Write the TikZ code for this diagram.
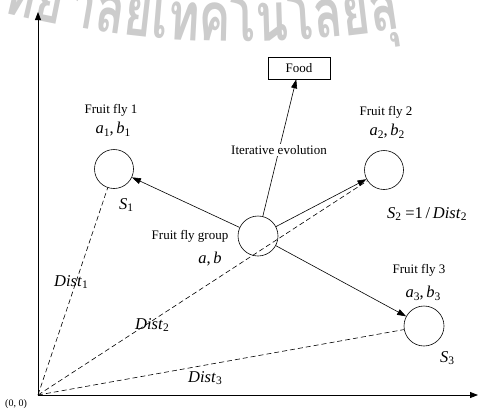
\documentclass[tikz,border=0pt]{standalone}
\usepackage{fontspec}
\setmainfont{Liberation Serif}
\newfontfamily\wmfont[Script=Thai]{Loma}
\usetikzlibrary{arrows.meta}
\newcommand\sub[1]{\raisebox{-0.35ex}{\fontsize{11.5}{12}\selectfont #1}}
\begin{document}
\begin{tikzpicture}[x=1pt,y=-1pt,
  fly/.style={circle, draw, minimum size=39pt, inner sep=0pt, line width=0.6pt},
  lbl/.style={font=\fontsize{13}{15}\selectfont, inner sep=0pt},
  var/.style={font=\fontsize{16.5}{18}\selectfont, inner sep=0pt},
  wm/.style={font=\wmfont\bfseries\fontsize{68}{70}\selectfont, text=black!20, inner sep=0pt, anchor=base west},
  tip/.style={-{Triangle[length=9pt,width=6pt]}, line width=0.6pt},
  dist/.style={dash pattern=on 5pt off 3pt, line width=0.6pt},
  axis/.style={-{Triangle[length=8pt,width=6pt]}, line width=0.8pt}]
\useasboundingbox (0,0) rectangle (478,410);
% watermark
\begin{scope}
\clip (0,0) rectangle (478,410);
\node[wm] (w0) at (0,12) {};
\foreach \wmc/\wmg [count=\i from 1] in {ท/0,ย/0,า/10,ลั/0,ย/0,เ/0,ท/0,ค/0,โ/0,น/0,โ/0,ล/0,ยี/0,สุ/0}{
  \pgfmathsetmacro\wmang{-13+1.65*(\i-1)}
  \pgfmathtruncatemacro\j{\i-1}
  \node[wm, rotate=\wmang, xscale=0.7, xshift=\wmg] (w\i) at (w\j.base east) {\wmc};
}
\end{scope}
% axes
\coordinate (O) at (38,395);
\coordinate (ytip) at (38,12);
\coordinate (xtip) at (478,395);
\draw[axis] (O) -- (ytip);
\draw[axis] (O) -- (xtip);
% flies
\node[fly] (f1) at (114,169) {};
\node[fly] (f2) at (384,170) {};
\node[fly, minimum size=40pt] (g) at (258,236) {};
\node[fly, minimum size=40pt] (f3) at (424,326) {};
\node[draw, lbl, minimum width=62pt, minimum height=22pt, line width=0.6pt] (food) at (299,68) {Food};
\draw[tip] (g) -- (food);
\node[lbl, fill=white, inner sep=1pt] (it) at (279,150) {Iterative evolution};
\draw[tip] (g) -- (f1);
\draw[tip] (g) -- (f2);
\draw[tip] (g) -- (f3);
\draw[dist] (O) -- (f1);
\draw[dist] (O) -- (f2);
\draw[dist] (O) -- (f3);
% labels
\node[lbl] (l1) at (111,110) {Fruit fly 1};
\node[var] (v1) at (113,129) {\textit{a}\sub{1},\,\textit{b}\sub{1}};
\node[var] (s1) at (126,205) {\textit{S}\sub{1}};
\node[lbl] (l2) at (386,112) {Fruit fly 2};
\node[var] (v2) at (387,131) {\textit{a}\sub{2},\,\textit{b}\sub{2}};
\node[var, anchor=west] (s2) at (387,214) {\textit{S}\sub{2} =1\,/\,\textit{Dist}\sub{2}};
\node[lbl] (lg) at (190,236) {Fruit fly group};
\node[var] (vg) at (210,259) {\textit{a},\,\textit{b}};
\node[lbl] (l3) at (419,270) {Fruit fly 3};
\node[var] (v3) at (423,293) {\textit{a}\sub{3},\,\textit{b}\sub{3}};
\node[var] (s3) at (447,358) {\textit{S}\sub{3}};
\node[var] (d1) at (71,282) {\textit{Dist}\sub{1}};
\node[var] (d2) at (152,325) {\textit{Dist}\sub{2}};
\node[var] (d3) at (205,378) {\textit{Dist}\sub{3}};
\node[font=\fontsize{10}{12}\selectfont, inner sep=0pt] (o) at (16,404) {(0, 0)};
\end{tikzpicture}
\end{document}
